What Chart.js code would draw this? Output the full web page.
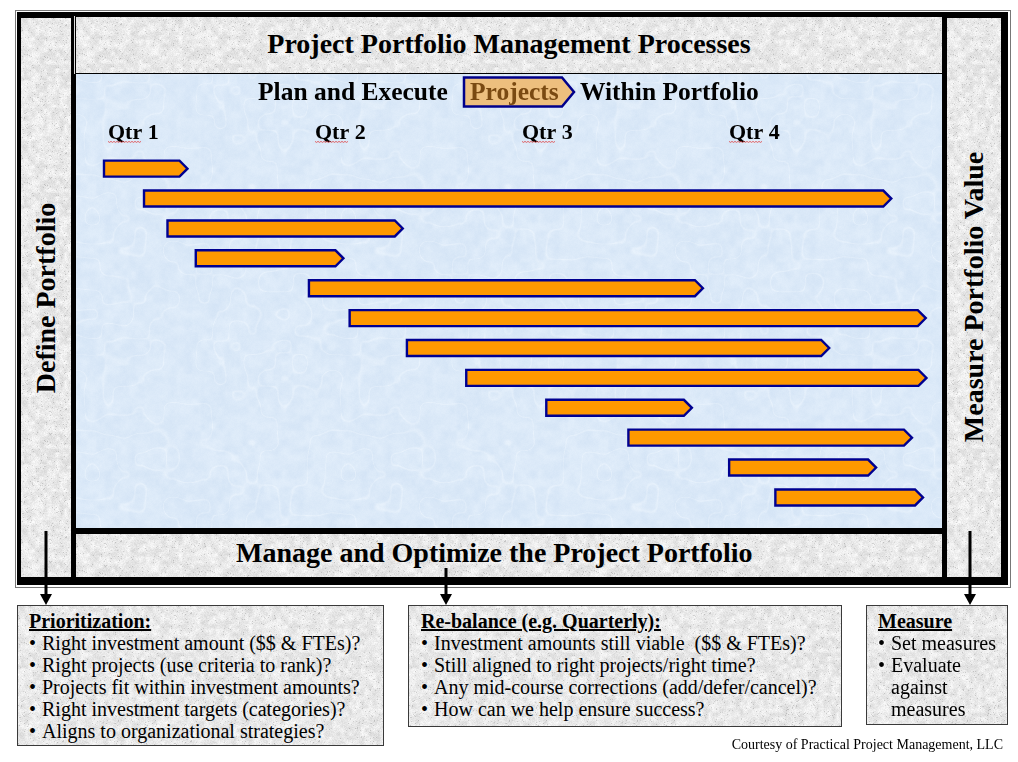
<!DOCTYPE html>
<html><head><meta charset="utf-8">
<script src="https://cdn.jsdelivr.net/npm/chart.js@4.4.1/dist/chart.umd.min.js"></script>
<style>
html,body{margin:0;padding:0;background:#fff;}
body{width:1018px;height:762px;position:relative;overflow:hidden;font-family:"Liberation Serif","Times New Roman",serif;color:#000;}
.abs{position:absolute;box-sizing:border-box;}
.grey{background-color:#e7e7e7;}
.blue{background-color:#dbe9f8;}
.t{position:absolute;white-space:nowrap;line-height:1;font-weight:bold;}
.c{transform:translate(-50%,-50%);}
.l{transform:translate(0,-50%);}
.box{position:absolute;box-sizing:border-box;border:1.5px solid #3a3a3a;font-size:20px;line-height:22px;padding-top:4px;}
.box .hd{font-weight:bold;text-decoration:underline;}
.box .li{position:relative;padding-left:13px;}
.box .li span{position:absolute;left:0;top:0;}
</style>
</head><body>
<div class="abs" style="left:15px;top:10px;width:996px;height:578px;border:1px solid #777;"></div>
<div class="abs" style="left:17px;top:12px;width:991px;height:573px;background:#000;"></div>
<div class="abs grey" style="left:21px;top:18px;width:50px;height:559px;"></div>
<div class="abs grey" style="left:947px;top:18px;width:54px;height:559px;"></div>
<div class="abs grey" style="left:75px;top:16px;width:868px;height:58px;border:1px solid #000;box-shadow:-1px 0 0 #ddd;"></div>
<div class="abs blue" style="left:76px;top:74px;width:866px;height:454px;"></div>
<div class="abs grey" style="left:76px;top:534px;width:866px;height:43px;"></div>

<div class="t c" style="left:509px;top:44px;font-size:28px;">Project Portfolio Management Processes</div>
<div class="t c" style="left:46px;top:298px;font-size:28px;transform:translate(-50%,-50%) rotate(-90deg);">Define Portfolio</div>
<div class="t c" style="left:974px;top:297px;font-size:28px;transform:translate(-50%,-50%) rotate(-90deg);">Measure Portfolio Value</div>
<div class="t l" style="left:236px;top:553px;font-size:28px;">Manage and Optimize the Project Portfolio</div>

<div class="abs" style="left:76px;top:74px;width:866px;height:454px;">
  <canvas id="chart" width="866" height="454"></canvas>
</div>

<svg class="abs" style="left:0;top:0;" width="1018" height="762">
  <polygon points="464,77.5 562,77.5 574,92 562,106.5 464,106.5" fill="#EDBF7E" stroke="#00008B" stroke-width="2.5"/>
  <g stroke="#000" stroke-width="3">
    <line x1="46" y1="531" x2="46" y2="596"/>
    <line x1="446" y1="568" x2="446" y2="596"/>
    <line x1="970" y1="531" x2="970" y2="596"/>
  </g>
  <g fill="#000">
    <polygon points="40,594 52,594 46,605"/>
    <polygon points="440,594 452,594 446,605"/>
    <polygon points="964,594 976,594 970,605"/>
  </g>
</svg>
<div class="t l" style="left:258px;top:92px;font-size:25.5px;">Plan and Execute</div>
<div class="t l" style="left:470px;top:92px;font-size:25.5px;color:#7A4A12;">Projects</div>
<div class="t l" style="left:580px;top:92px;font-size:25.5px;">Within Portfolio</div>

<div class="box grey" style="left:17px;top:605px;width:367px;height:141px;padding-left:11px;">
  <div class="hd">Prioritization:</div>
  <div class="li"><span>•</span>Right investment amount ($$ &amp; FTEs)?</div>
  <div class="li"><span>•</span>Right projects (use criteria to rank)?</div>
  <div class="li"><span>•</span>Projects fit within investment amounts?</div>
  <div class="li"><span>•</span>Right investment targets (categories)?</div>
  <div class="li"><span>•</span>Aligns to organizational strategies?</div>
</div>
<div class="box grey" style="left:408px;top:605px;width:434px;height:122px;padding-left:12px;">
  <div class="hd">Re-balance (e.g. Quarterly):</div>
  <div class="li"><span>•</span>Investment amounts still viable&nbsp; ($$ &amp; FTEs)?</div>
  <div class="li"><span>•</span>Still aligned to right projects/right time?</div>
  <div class="li"><span>•</span>Any mid-course corrections (add/defer/cancel)?</div>
  <div class="li"><span>•</span>How can we help ensure success?</div>
</div>
<div class="box grey" style="left:866px;top:605px;width:142px;height:120px;padding-left:11px;">
  <div class="hd">Measure</div>
  <div class="li"><span>•</span>Set measures</div>
  <div class="li"><span>•</span>Evaluate<br>against<br>measures</div>
</div>
<div class="t" style="right:15px;top:738px;font-size:14px;font-weight:normal;">Courtesy of Practical Project Management, LLC</div>

<script>
// ---- data ----
const projects = ['Project 1','Project 2','Project 3','Project 4','Project 5','Project 6','Project 7','Project 8','Project 9','Project 10','Project 11','Project 12'];
const startMonth = [0, 0.58, 0.92, 1.33, 2.97, 3.56, 4.39, 5.25, 6.41, 7.6, 9.06, 9.73];
const endMonth = [1.21, 11.41, 4.33, 3.47, 8.68, 11.91, 10.51, 11.92, 8.52, 11.71, 11.19, 11.87];
const quarterLabels = ['Qtr 1','Qtr 2','Qtr 3','Qtr 4'];
const quarterStarts = [0, 3, 6, 9];

// ---- textures (deterministic) ----
function hash(x,y,s){const v=Math.sin(x*127.1+y*311.7+s*74.7)*43758.5453;return v-Math.floor(v);}
function vnoise(x,y,cell,n,s){
  const gx=x/cell, gy=y/cell, x0=Math.floor(gx), y0=Math.floor(gy), fx=gx-x0, fy=gy-y0;
  const a=hash(x0%n,y0%n,s), b=hash((x0+1)%n,y0%n,s), c=hash(x0%n,(y0+1)%n,s), d=hash((x0+1)%n,(y0+1)%n,s);
  const sx=fx*fx*(3-2*fx), sy=fy*fy*(3-2*fy);
  return a+(b-a)*sx+(c-a)*sy+(a-b-c+d)*sx*sy;
}
function makeTex(w,h,fn){
  const c=document.createElement('canvas');c.width=w;c.height=h;const g=c.getContext('2d');
  const im=g.createImageData(w,h);
  for(let y=0;y<h;y++)for(let x=0;x<w;x++){const p=fn(x,y);const i=(y*w+x)*4;
    im.data[i]=Math.max(0,Math.min(255,p[0]));im.data[i+1]=Math.max(0,Math.min(255,p[1]));im.data[i+2]=Math.max(0,Math.min(255,p[2]));im.data[i+3]=255;}
  g.putImageData(im,0,0);return c.toDataURL();
}
const greyTex=makeTex(128,128,(x,y)=>{
  let v=233+(vnoise(x,y,4,32,3)-0.5)*24+(hash(x,y,1)-0.5)*16;
  if(hash(x,y,2)>0.965) v-=30;
  return [v,v,v];
});
const blueTex=makeTex(256,256,(x,y)=>{
  const n=(vnoise(x,y,8,32,5)-0.5)*0.7+(vnoise(x,y,3,0x7fffffff,13)-0.5)*0.3+(hash(x,y,9)-0.5)*0.25;
  const ridge=1-Math.abs(2*vnoise(x,y,16,16,11)-1);
  const vein=ridge>0.9?(ridge-0.9)*5:0;
  return [219+n*14+vein*18,233+n*10+vein*12,248+n*5+vein*5];
});
document.querySelectorAll('.grey').forEach(e=>e.style.backgroundImage='url('+greyTex+')');
document.querySelectorAll('.blue').forEach(e=>e.style.backgroundImage='url('+blueTex+')');

// ---- plugins ----
const FONT_FAMILY='"Liberation Serif","Times New Roman",serif';
const arrowBars={
  id:'arrowBars',
  afterDatasetsDraw(chart){
    const ctx=chart.ctx;
    chart.getDatasetMeta(0).data.forEach(el=>{
      const p=el.getProps(['x','y','base','height'],true);
      const x0=Math.min(p.base,p.x), x1=Math.max(p.base,p.x), h=p.height, yc=p.y;
      const tip=Math.min(8,(x1-x0)/2);
      ctx.save();
      ctx.beginPath();
      ctx.moveTo(x0,yc-h/2);ctx.lineTo(x1-tip,yc-h/2);ctx.lineTo(x1,yc);
      ctx.lineTo(x1-tip,yc+h/2);ctx.lineTo(x0,yc+h/2);ctx.closePath();
      ctx.fillStyle='#FF9900';ctx.fill();
      ctx.lineWidth=2.4;ctx.strokeStyle='#000090';ctx.lineJoin='miter';ctx.stroke();
      ctx.restore();
    });
  }
};
const squiggle={
  id:'squiggle',
  afterDraw(chart){
    const ctx=chart.ctx, sc=chart.scales.x;
    ctx.save();
    ctx.font='bold 22px '+FONT_FAMILY;
    const w=ctx.measureText('Qtr').width;
    const yc=sc.bottom-7-14.3+9;
    ctx.strokeStyle='#e04040';ctx.lineWidth=0.8;
    quarterStarts.forEach(v=>{
      const x=sc.getPixelForValue(v)+4;
      ctx.beginPath();
      for(let k=0;k<=w;k+=1.5){const yy=yc+((Math.round(k/1.5)%2)?1:0);if(k===0)ctx.moveTo(x+k,yy);else ctx.lineTo(x+k,yy);}
      ctx.stroke();
    });
    ctx.restore();
  }
};

new Chart(document.getElementById('chart'),{
  type:'bar',
  data:{
    labels:projects,
    datasets:[{
      data:startMonth.map((s,i)=>[s,endMonth[i]]),
      backgroundColor:'rgba(0,0,0,0)',
      borderWidth:0,
      barThickness:16
    }]
  },
  options:{
    indexAxis:'y',
    responsive:false,
    animation:false,
    events:[],
    layout:{padding:{left:28,right:10,top:39.3,bottom:15.6}},
    plugins:{legend:{display:false},tooltip:{enabled:false}},
    scales:{
      x:{
        type:'linear',position:'top',min:0,max:12,
        grid:{display:false,drawTicks:false},
        border:{display:false},
        ticks:{
          stepSize:3,align:'start',labelOffset:4,padding:7,autoSkip:false,maxRotation:0,
          color:'#000',font:{family:FONT_FAMILY,size:22,weight:'bold'},
          callback:(v)=>{const i=quarterStarts.indexOf(v);return i>=0?quarterLabels[i]:'';}
        }
      },
      y:{display:false,grid:{display:false}}
    }
  },
  plugins:[arrowBars,squiggle]
});
</script>
</body></html>
